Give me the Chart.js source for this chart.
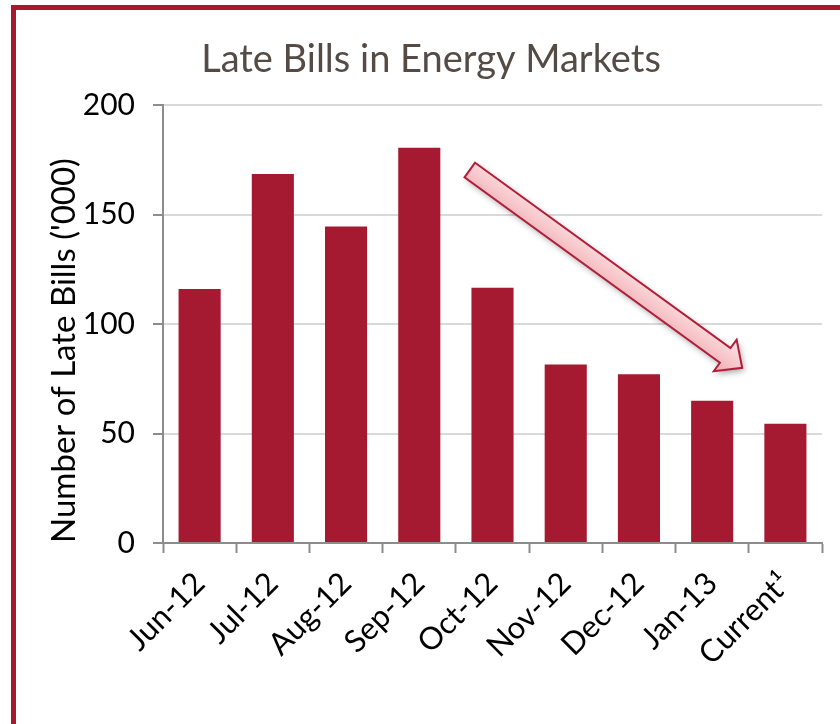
<!DOCTYPE html>
<html>
<head>
<meta charset="utf-8">
<script src="https://cdn.jsdelivr.net/npm/chart.js@4/dist/chart.umd.min.js"></script>
<style>
  html, body { margin: 0; padding: 0; background: #fff; }
  #wrap { position: relative; width: 840px; height: 724px; overflow: hidden; }
  #frame { position: absolute; left: 11px; top: 5px; width: 900px; height: 714px;
           border: 5px solid #A6192E; box-sizing: content-box; pointer-events: none; }
  canvas { position: absolute; left: 0; top: 0; }
</style>
</head>
<body>
<div id="wrap">
  <canvas id="c" width="840" height="724"></canvas>
  <div id="frame"></div>
</div>
<script>
const categories = ['Jun-12', 'Jul-12', 'Aug-12', 'Sep-12', 'Oct-12', 'Nov-12', 'Dec-12', 'Jan-13', 'Current\u00B9'];
const lateBills = [116, 168.5, 144.5, 180.5, 116.5, 81.5, 77, 65, 54.5];
const yTicks = [0, 50, 100, 150, 200];
// arrow annotation anchored in data space: [category index, value]
const arrowFrom = [3.69, 170.3];
const arrowTo = [7.41, 80];

const arrowPlugin = {
  id: 'trendArrow',
  afterDatasetsDraw(chart) {
    const xs = chart.scales.x, ys = chart.scales.y, ctx = chart.ctx;
    const x0 = xs.getPixelForValue(arrowFrom[0]), y0 = ys.getPixelForValue(arrowFrom[1]);
    const x1 = xs.getPixelForValue(arrowTo[0]), y1 = ys.getPixelForValue(arrowTo[1]);
    const dx = x1 - x0, dy = y1 - y0, len = Math.hypot(dx, dy);
    const shaftHalf = 9, headHalf = 19.5, headLen = 21;
    ctx.save();
    ctx.translate(x0, y0);
    ctx.rotate(Math.atan2(dy, dx));
    ctx.beginPath();
    ctx.moveTo(0, -shaftHalf);
    ctx.lineTo(len - headLen, -shaftHalf);
    ctx.lineTo(len - headLen, -headHalf);
    ctx.lineTo(len, 0);
    ctx.lineTo(len - headLen, headHalf);
    ctx.lineTo(len - headLen, shaftHalf);
    ctx.lineTo(0, shaftHalf);
    ctx.closePath();
    const g = ctx.createLinearGradient(0, -headHalf, 0, headHalf);
    g.addColorStop(0, '#fbe2e4');
    g.addColorStop(0.5, '#f7c9cd');
    g.addColorStop(1, '#f0aab1');
    ctx.shadowColor = 'rgba(0,0,0,0.35)';
    ctx.shadowBlur = 6;
    ctx.shadowOffsetX = 2;
    ctx.shadowOffsetY = 3;
    ctx.fillStyle = g;
    ctx.fill();
    ctx.shadowColor = 'transparent';
    ctx.lineWidth = 2;
    ctx.strokeStyle = '#B01F3A';
    ctx.lineJoin = 'miter';
    ctx.stroke();
    ctx.restore();
  }
};

new Chart(document.getElementById('c'), {
  type: 'bar',
  data: {
    labels: categories,
    datasets: [{
      data: lateBills,
      backgroundColor: '#A51931',
      borderWidth: 0,
      barPercentage: 0.575,
      categoryPercentage: 1.0
    }]
  },
  options: {
    responsive: false,
    animation: false,
    events: [],
    layout: { padding: { left: 40, right: 18, top: 10, bottom: 8 } },
    plugins: {
      legend: { display: false },
      tooltip: { enabled: false },
      title: {
        display: true,
        text: 'Late Bills in Energy Markets',
        color: '#544b45',
        font: { family: 'Lato', size: 38, weight: 'normal' },
        padding: { top: 27.2, bottom: 22.2 }
      }
    },
    scales: {
      x: {
        grid: { display: true, drawOnChartArea: false, tickLength: 10, tickColor: '#8c8c8c', tickWidth: 2, offset: true },
        border: { color: '#8c8c8c', width: 2 },
        ticks: {
          color: '#000',
          font: { family: 'Lato', size: 31 },
          minRotation: 45, maxRotation: 45,
          padding: 12,
          autoSkip: false
        },
        afterFit(s) { s.height = 724 - 543 - 8; }
      },
      y: {
        min: 0, max: 200,
        afterBuildTicks(s) { s.ticks = yTicks.map(v => ({ value: v })); },
        grid: { color: '#d9d9d9', lineWidth: 2, tickLength: 10, tickColor: '#8c8c8c', tickWidth: 2 },
        border: { color: '#8c8c8c', width: 2 },
        ticks: { color: '#000', font: { family: 'Lato', size: 30 }, padding: 18 },
        title: {
          display: true,
          text: "Number of Late Bills ('000)",
          color: '#000',
          align: 'start',
          font: { family: 'Lato', size: 33 },
          padding: { top: 5, bottom: 0 }
        },
        afterFit(s) { s.width = 163 - 40; }
      }
    }
  },
  plugins: [arrowPlugin]
});
</script>
</body>
</html>
